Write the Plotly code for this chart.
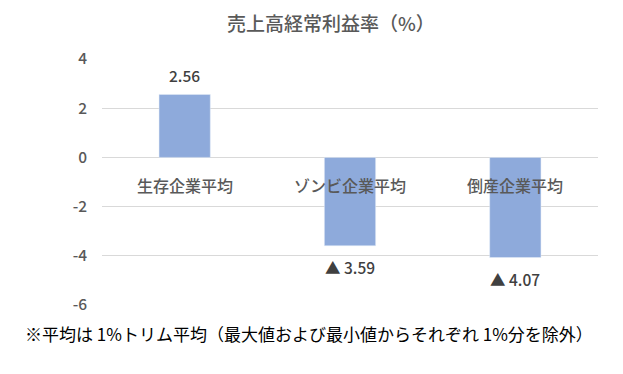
import plotly.graph_objects as go

categories = ["生存企業平均", "ゾンビ企業平均", "倒産企業平均"]
values = [2.56, -3.59, -4.07]
value_labels = ["2.56", "▲ 3.59", "▲ 4.07"]
tick_vals = [4, 2, 0, -2, -4, -6]
tick_text = ["4", "2", "0", "-2", "-4", "-6"]

FONT = "Noto Sans CJK JP"

fig = go.Figure()
fig.add_trace(go.Bar(
    x=categories, y=values, marker_color="#8eaadb", width=0.31,
    hoverinfo="skip",
))

for c, v, t in zip(categories, values, value_labels):
    fig.add_annotation(
        x=c, y=v, text=t, showarrow=False,
        yanchor="bottom" if v > 0 else "top",
        yshift=6 if v > 0 else -8,
        font=dict(family=FONT, size=15.5, color="#404040", weight=500),
    )
    fig.add_annotation(
        x=c, y=0, text=c, showarrow=False, yanchor="top", yshift=-14,
        font=dict(family=FONT, size=16, color="#595959", weight=500),
    )

fig.add_annotation(
    xref="paper", yref="paper", x=0.462, y=1, yshift=37, yanchor="middle",
    text="売上高経常利益率（%）", showarrow=False, borderpad=0,
    font=dict(family=FONT, size=19, color="#595959", weight=500),
)
fig.add_annotation(
    xref="paper", yref="paper", x=-0.16, y=0, yshift=-28, xanchor="left", yanchor="middle",
    text="※平均は 1%トリム平均（最大値および最小値からそれぞれ 1%分を除外）", showarrow=False,
    font=dict(family=FONT, size=17, color="#000000"),
)

fig.update_layout(
    width=623, height=374,
    margin=dict(l=94, r=33, t=51, b=77),
    paper_bgcolor="white", plot_bgcolor="white",
    showlegend=False,
    xaxis=dict(showticklabels=False, showgrid=False, zeroline=False, showline=False),
    yaxis=dict(
        range=[-6, 4], tickvals=tick_vals, ticktext=tick_text,
        showgrid=True, gridcolor="#d9d9d9", gridwidth=1,
        zeroline=True, zerolinecolor="#d9d9d9", zerolinewidth=1,
        ticklabelstandoff=14,
        tickfont=dict(family=FONT, size=15.5, color="#595959", weight=500),
    ),
)

fig.write_html("out.html")
